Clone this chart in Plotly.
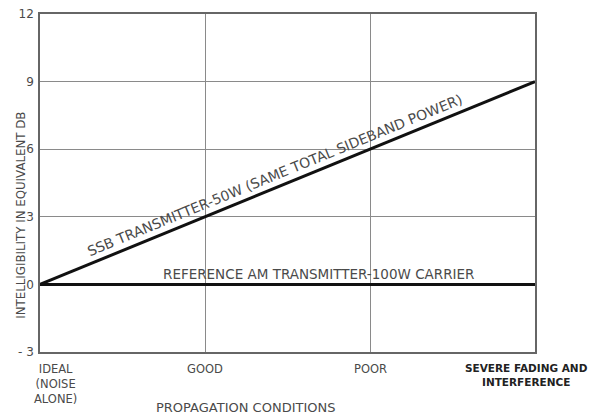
import plotly.graph_objects as go

conditions = ["IDEAL<br>(NOISE<br>ALONE)", "GOOD", "POOR", "SEVERE FADING AND<br>INTERFERENCE"]
ssb_db = [0, 3, 6, 9]
am_ref_db = [0, 0, 0, 0]
y_ticks = [-3, 0, 3, 6, 9, 12]
y_tick_text = ["- 3", "0", "3", "6", "9", "12"]

xi = list(range(len(conditions)))
FONT = "DejaVu Sans"
GREY = "#4a4a4a"

fig = go.Figure()
fig.add_trace(go.Scatter(x=xi, y=ssb_db, mode="lines",
                         line=dict(color="#111111", width=3), showlegend=False))
fig.add_trace(go.Scatter(x=xi, y=am_ref_db, mode="lines",
                         line=dict(color="#111111", width=3), showlegend=False))

fig.update_layout(
    width=591, height=415,
    margin=dict(l=40, r=56, t=14, b=63),
    paper_bgcolor="white", plot_bgcolor="white",
    font=dict(family=FONT, color=GREY, size=11),
    xaxis=dict(range=[0, 3], tickvals=xi, showticklabels=False, automargin=False,
               showgrid=True, gridcolor="#8a8a8a", gridwidth=1,
               showline=True, linecolor="#666666", linewidth=1.5, mirror=True,
               zeroline=False, ticks=""),
    yaxis=dict(range=[-3, 12], tickvals=y_ticks, ticktext=y_tick_text, automargin=False,
               showgrid=True, gridcolor="#8a8a8a", gridwidth=1,
               showline=True, linecolor="#666666", linewidth=1.5, mirror=True,
               zeroline=False, ticks="", ticklabelstandoff=2,
               tickfont=dict(size=12, color=GREY)),
)

# x category labels
last = len(conditions) - 1
for i, lab in enumerate(conditions):
    if i == last:
        fig.add_annotation(x=i, y=0, xref="x", yref="paper", yanchor="top",
                           xanchor="right", xshift=55, yshift=-8,
                           text="<b>" + lab.replace("<br>", "</b><br><b>") + "</b>",
                           showarrow=False, align="center",
                           font=dict(size=10.5, color="#222222", family=FONT))
    else:
        fig.add_annotation(x=i, y=0, xref="x", yref="paper", yanchor="top",
                           text=lab, showarrow=False, yshift=-8,
                           xshift=15 if i == 0 else 0, align="center",
                           font=dict(size=11.5, color=GREY, family=FONT))

# axis titles
fig.add_annotation(x=0.415, y=0, xref="paper", yref="paper", yanchor="top",
                   yshift=-46, text="PROPAGATION CONDITIONS", showarrow=False,
                   font=dict(size=13, color=GREY))
fig.add_annotation(x=0, y=0.465, xref="paper", yref="paper", xshift=-28, yshift=-21,
                   yanchor="middle", textangle=-90,
                   text="INTELLIGIBILITY IN EQUIVALENT DB",
                   showarrow=False, font=dict(size=11.8, color=GREY))

# line labels
fig.add_annotation(x=1.45, y=1.45 * 3, xref="x", yref="y", textangle=-22.3,
                   text="SSB TRANSMITTER-50W (SAME TOTAL SIDEBAND POWER)",
                   showarrow=False, xshift=-4, yshift=11,
                   font=dict(size=14, color=GREY))
fig.add_annotation(x=1.685, y=0, xref="x", yref="y",
                   text="REFERENCE AM TRANSMITTER-100W CARRIER",
                   showarrow=False, yshift=10,
                   font=dict(size=13.5, color=GREY))

fig.write_html("out.html", config={"displayModeBar": False},
               post_script="document.body.style.margin='0';document.body.style.overflow='hidden';")
